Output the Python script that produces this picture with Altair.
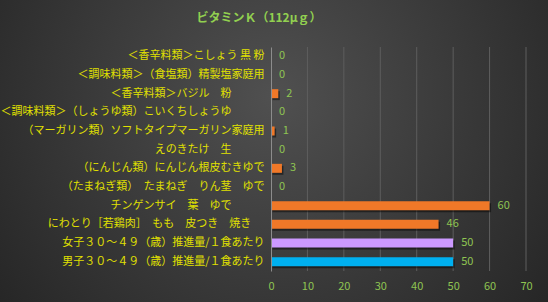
import altair as alt
import pandas as pd

FS = "\u3000"
ZW = "\u200b"
categories = [
    "＜香辛料類＞こしょう 黒 粉",
    "＜調味料類＞（食塩類）精製塩家庭用",
    "＜香辛料類＞バジル　粉" + FS * 3 + ZW,
    "＜調味料類＞（しょうゆ類）こいくちしょうゆ" + FS * 3 + ZW,
    "（マーガリン類）ソフトタイプマーガリン家庭用",
    "えのきたけ　生" + FS * 3 + ZW,
    "（にんじん類）にんじん根皮むきゆで",
    "（たまねぎ類）　たまねぎ　りん茎　ゆで",
    "チンゲンサイ　葉　ゆで" + FS * 3 + ZW,
    "にわとり［若鶏肉］　もも　皮つき　焼き" + FS + "\u2009" + ZW,
    "女子３０～４９（歳）推進量/１食あたり",
    "男子３０～４９（歳）推進量/１食あたり",
]
values = [0, 0, 2, 0, 1, 0, 3, 0, 60, 46, 50, 50]
colors = ["#F07828"] * 10 + ["#CC99FF", "#00B0F0"]
ticks = [0, 10, 20, 30, 40, 50, 60, 70]
title_text = "ビタミンＫ（112μｇ）"

W, H = 255, 224
PAD = {"left": 271, "top": 47, "right": 22, "bottom": 31}

df = pd.DataFrame({"cat": categories, "v": values, "c": colors})
xs = alt.Scale(domain=[0, 70], nice=False)
xaxis = alt.Axis(values=ticks, format="d", zindex=2, labelOverlap=False,
                 labelFlush=False)
yaxis = alt.Axis(zindex=2)

bg = alt.Chart(pd.DataFrame({"a": [0]})).mark_rect(
    fill=alt.Gradient(
        gradient="radial",
        x1=0.5, y1=0.4, r1=0.0,
        x2=0.5, y2=0.4, r2=0.75,
        stops=[alt.GradientStop(offset=0, color="#505050"),
               alt.GradientStop(offset=1, color="#1e1e1e")],
    )
).encode(
    x=alt.value(-PAD["left"]), x2=alt.value(W + PAD["right"]),
    y=alt.value(-PAD["top"]), y2=alt.value(H + PAD["bottom"]),
)

grid = alt.Chart(pd.DataFrame({"v": ticks[1:]})).mark_rule(
    color="#5e5e5e", strokeWidth=1
).encode(
    x=alt.X("v:Q", scale=xs, title=None, axis=xaxis),
    y=alt.value(0), y2=alt.value(H),
)

shadow = alt.Chart(df).mark_bar(size=9, color="#000000", opacity=0.45,
                                xOffset=1.5, yOffset=2).encode(
    x=alt.X("v:Q", scale=xs, title=None, axis=xaxis),
    y=alt.Y("cat:N", sort=categories, title=None, axis=yaxis),
)

bars = alt.Chart(df).mark_bar(size=9).encode(
    x=alt.X("v:Q", scale=xs, title=None, axis=xaxis),
    y=alt.Y("cat:N", sort=categories, title=None, axis=yaxis),
    color=alt.Color("c:N", scale=None),
)

labels = alt.Chart(df).mark_text(
    align="left", baseline="middle", dx=8, fontSize=11,
    font="Noto Sans CJK JP", color="#8FC552"
).encode(
    x=alt.X("v:Q", scale=xs, title=None, axis=xaxis),
    y=alt.Y("cat:N", sort=categories, title=None, axis=yaxis),
    text=alt.Text("v:Q"),
)

title = alt.Chart(pd.DataFrame({"t": [title_text]})).mark_text(
    align="center", baseline="middle", fontSize=12, fontWeight="bold",
    font="Noto Sans CJK JP", color="#92D050"
).encode(
    x=alt.value(-12), y=alt.value(-29), text="t:N",
)

chart = alt.layer(bg, grid, shadow, bars, labels, title).properties(
    width=W, height=H,
    autosize=alt.AutoSizeParams(type="none"),
    padding=PAD,
    background="#2a2a2a",
).configure_view(stroke=None).configure_axisX(
    grid=False, domain=False, ticks=False,
    labelColor="#8FC552", labelFont="Noto Sans CJK JP", labelFontSize=11,
    labelPadding=9,
).configure_axisY(
    grid=False, ticks=False, domain=True, domainColor="#8c8c8c",
    labelColor="#E0E000", labelFont="Noto Sans CJK JP", labelFontSize=11,
    labelPadding=7, labelLimit=400,
)

chart.save("out.html", embed_options={"renderer": "svg", "actions": False})
